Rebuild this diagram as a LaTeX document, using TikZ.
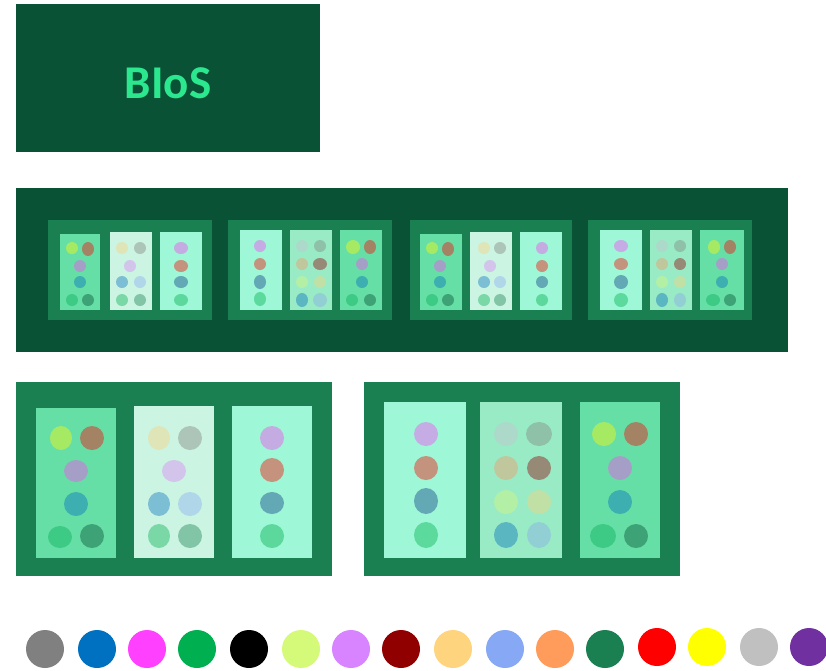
\documentclass[tikz,border=0pt]{standalone}
\usepackage{fontspec}
\newfontfamily\calib{Carlito}
\definecolor{dk}{HTML}{0A5235}
\definecolor{md}{HTML}{1A7F51}
\definecolor{pA}{HTML}{66DFA6}
\definecolor{pB}{HTML}{CBF4E3}
\definecolor{pC}{HTML}{9EF7D6}
\definecolor{pD}{HTML}{99EBC6}
\definecolor{tx}{HTML}{2BE88F}
\newcommand\elp[5]{\definecolor{elpcol}{HTML}{#5}\fill[fill=elpcol] (#1,#2) ellipse [x radius=#3pt, y radius=#4pt];}
\newcommand\bx[5]{\fill[#5] (#1,#2) rectangle (#3,#4);}
\begin{document}
\begin{tikzpicture}[x=1pt,y=-1pt]
\useasboundingbox (0,0) rectangle (826,670);
% header
\bx{16}{4}{320}{152}{dk}
\node[text=tx,font=\calib\bfseries\fontsize{47}{50}\selectfont] (title) at (168,83) {BIoS};
% row 2
\bx{16}{188}{788}{352}{dk}
\bx{48}{220}{212}{320}{md}
\bx{228}{220}{392}{320}{md}
\bx{410}{220}{572}{320}{md}
\bx{588}{220}{752}{320}{md}
% box1
\bx{60}{234}{100}{310}{pA}
\bx{110}{232}{152}{310}{pB}
\bx{160}{232}{202}{310}{pC}
\elp{72}{248}{6}{6}{A6EA63}\elp{88}{249}{6}{7}{A48264}
\elp{80}{266}{6}{6}{A59FC8}\elp{80}{282}{6}{6}{3DAFB0}
\elp{72}{300}{6}{6}{3DCA85}\elp{88}{300}{6}{6}{3EA277}
\elp{122}{248}{6}{6}{E0E5B8}\elp{140}{248}{6}{6}{ADC5B9}
\elp{130}{266}{6}{6}{D3C4EC}
\elp{122}{282}{6}{6}{7CBFD4}\elp{140}{282}{6}{6}{B0D7E9}
\elp{122}{300}{6}{6}{7AD7A6}\elp{140}{300}{6}{6}{82C5A6}
\elp{181}{248}{7}{6}{C4ACE2}\elp{181}{266}{7}{6}{C5937D}
\elp{181}{282}{7}{6}{62A8B5}\elp{181}{300}{7}{6}{5CD89C}
% box2
\bx{240}{230}{282}{310}{pC}
\bx{290}{230}{332}{310}{pD}
\bx{340}{230}{382}{310}{pA}
\elp{260}{246}{6}{6}{C5ACE4}\elp{260}{264}{6}{6}{C4937D}
\elp{260}{282}{6}{7}{62A9B5}\elp{260}{299}{6}{7}{5CD99C}
\elp{302}{246}{6}{6}{ACD9CA}\elp{320}{246}{6}{6}{8FC1A8}
\elp{302}{264}{6}{6}{C1C79C}\elp{320}{264}{7}{6}{968A76}
\elp{302}{282}{6}{6}{B3F0A6}\elp{320}{282}{6}{6}{C1E0A6}
\elp{302}{300}{6}{7}{5AB6C0}\elp{320}{300}{7}{7}{92CFD4}
\elp{353}{247}{7}{7}{A6EA63}\elp{370}{247}{6}{7}{A48264}
\elp{362}{264}{6}{6}{A59FC8}\elp{362}{282}{6}{6}{3DAFB0}
\elp{352}{300}{6}{6}{3DCA85}\elp{370}{300}{6}{6}{3EA277}
% box3
\bx{420}{234}{462}{310}{pA}
\bx{470}{232}{512}{310}{pB}
\bx{520}{232}{562}{310}{pC}
\elp{432}{248}{6}{6}{A6EA63}\elp{448}{249}{6}{7}{A48264}
\elp{440}{266}{6}{6}{A59FC8}\elp{440}{282}{6}{6}{3DAFB0}
\elp{432}{300}{6}{6}{3DCA85}\elp{448}{300}{6}{6}{3EA277}
\elp{484}{248}{6}{6}{E0E5B8}\elp{500}{248}{6}{6}{ADC5B9}
\elp{490}{266}{6}{6}{D3C4EC}
\elp{484}{282}{6}{6}{7CBFD4}\elp{500}{282}{6}{6}{B0D7E9}
\elp{484}{300}{6}{6}{7AD7A6}\elp{500}{300}{6}{6}{82C5A6}
\elp{542}{248}{6}{6}{C4ACE2}\elp{542}{266}{6}{6}{C5937D}
\elp{542}{282}{6}{6}{62A8B5}\elp{542}{300}{6}{6}{5CD89C}
% box4
\bx{600}{230}{642}{310}{pC}
\bx{650}{230}{692}{310}{pD}
\bx{700}{230}{744}{310}{pA}
\elp{621}{246}{7}{6}{C5ACE4}\elp{621}{264}{7}{6}{C4937D}
\elp{621}{282}{7}{7}{62A9B5}\elp{621}{300}{7}{7}{5CD99C}
\elp{662}{246}{6}{6}{ACD9CA}\elp{680}{246}{6}{6}{8FC1A8}
\elp{662}{264}{6}{6}{C1C79C}\elp{680}{264}{6}{6}{968A76}
\elp{662}{282}{6}{6}{B3F0A6}\elp{680}{282}{6}{6}{C1E0A6}
\elp{662}{300}{6}{7}{5AB6C0}\elp{680}{300}{6}{7}{92CFD4}
\elp{714}{247}{6}{7}{A6EA63}\elp{730}{247}{6}{7}{A48264}
\elp{722}{264}{6}{6}{A59FC8}\elp{722}{282}{6}{6}{3DAFB0}
\elp{713}{300}{7}{6}{3DCA85}\elp{730}{300}{6}{6}{3EA277}
% row 3 left
\bx{16}{382}{332}{576}{md}
\bx{36}{408}{116}{558}{pA}
\bx{134}{406}{214}{558}{pB}
\bx{232}{406}{312}{558}{pC}
\elp{61}{438}{11}{12}{A6EA63}\elp{92}{438}{12}{12}{A48264}
\elp{76}{471}{12}{11}{A59FC8}\elp{76}{504}{12}{12}{3DAFB0}
\elp{60}{537}{12}{11}{3DCA85}\elp{92}{536}{12}{12}{3EA277}
\elp{159}{438}{11}{12}{E0E5B8}\elp{190}{438}{12}{12}{ADC5B9}
\elp{174}{471}{12}{11}{D3C4EC}
\elp{159}{504}{11}{12}{7CBFD4}\elp{190}{504}{12}{12}{B0D7E9}
\elp{159}{536}{11}{12}{7AD7A6}\elp{190}{536}{12}{12}{82C5A6}
\elp{272}{438}{12}{12}{C4ACE2}\elp{272}{470}{12}{12}{C5937D}
\elp{272}{503}{12}{11}{62A8B5}\elp{272}{536}{12}{12}{5CD89C}
% row 3 right
\bx{364}{382}{680}{576}{md}
\bx{384}{402}{466}{558}{pC}
\bx{480}{402}{562}{558}{pD}
\bx{580}{402}{660}{558}{pA}
\elp{426}{434}{12}{12}{C5ACE4}\elp{426}{468}{12}{12}{C4937D}
\elp{426}{501}{12}{13}{62A9B5}\elp{426}{535}{12}{13}{5CD99C}
\elp{506}{434}{12}{12}{ACD9CA}\elp{539}{434}{13}{12}{8FC1A8}
\elp{506}{468}{12}{12}{C1C79C}\elp{539}{468}{12}{12}{968A76}
\elp{506}{502}{12}{12}{B3F0A6}\elp{539}{502}{12}{12}{C1E0A6}
\elp{506}{535}{12}{13}{5AB6C0}\elp{539}{535}{12}{13}{92CFD4}
\elp{604}{434}{12}{12}{A6EA63}\elp{636}{434}{12}{12}{A48264}
\elp{620}{468}{12}{12}{A59FC8}\elp{620}{502}{12}{12}{3DAFB0}
\elp{603}{536}{13}{12}{3DCA85}\elp{636}{536}{12}{12}{3EA277}
% palette
\elp{45}{649}{19}{19}{808080}
\elp{97}{649}{19}{19}{0070C0}
\elp{147}{649}{19}{19}{FF40FF}
\elp{197}{649}{19}{19}{00B050}
\elp{249}{649}{19}{19}{000000}
\elp{301}{649}{19}{19}{D5FA7A}
\elp{351}{649}{19}{19}{D883FF}
\elp{401}{649}{19}{19}{900000}
\elp{453}{649}{19}{19}{FFD47F}
\elp{505}{649}{19}{19}{87A8F5}
\elp{555}{649}{19}{19}{FF9B5B}
\elp{605}{649}{19}{19}{1A7F51}
\elp{657}{647}{19}{19}{FF0000}
\elp{707}{647}{19}{19}{FFFF00}
\elp{759}{647}{19}{19}{C0C0C0}
\elp{809}{647}{19}{19}{7030A0}
\end{tikzpicture}
\end{document}
